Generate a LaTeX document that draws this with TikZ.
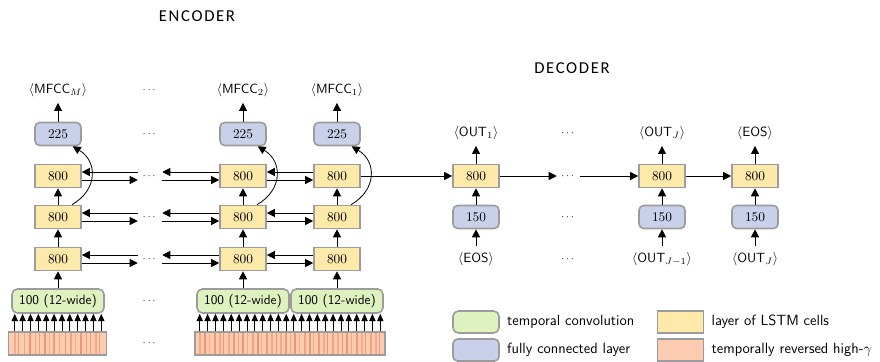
\documentclass[tikz,border=0pt]{standalone}
\usepackage{fontspec}
\usepackage{amsmath}
\newfontfamily\titlefont[LetterSpace=10]{Carlito}
\usetikzlibrary{arrows.meta,positioning,calc}
\definecolor{convGreen}{HTML}{DDF2BE}
\definecolor{fcBlue}{HTML}{C9D0EA}
\definecolor{lstmYellow}{HTML}{FDE9A9}
\definecolor{gammaSalmon}{HTML}{FCCBB0}
\definecolor{gammaStripe}{HTML}{EC9674}
\definecolor{boxGray}{HTML}{9C9C9C}
\tikzset{
  lstm/.style={draw=boxGray, line width=1.2pt, fill=lstmYellow, minimum width=34.5pt, minimum height=17.25pt, inner sep=0pt},
  fc/.style={lstm, fill=fcBlue, rounded corners=3.5pt},
  conv/.style={lstm, fill=convGreen, rounded corners=4pt, minimum width=69pt, minimum height=18pt, font=\sffamily},
  gammakey/.style={draw=boxGray, line width=1.2pt, fill=gammaSalmon, inner sep=0pt, minimum height=17.25pt},
  gamma/.style={gammakey,
    path picture={\foreach \s/\w/\o in #1
      \fill[gammaStripe!\o!gammaSalmon] ([xshift=\s*0.75pt]path picture bounding box.south west) rectangle ([xshift=(\s+\w)*0.75pt]path picture bounding box.north west);}},
  seqlabel/.style={font=\sffamily, inner xsep=1pt, inner ysep=4.5pt},
  keytext/.style={font=\sffamily\fontsize{11.1}{13}\selectfont},
  gap/.style={minimum width=18pt, inner sep=0pt, font=\scriptsize},
  flow/.style={-{Triangle[length=6pt,width=6pt]}, line width=0.6pt},
  tap/.style={-{Triangle[length=5.5pt,width=4.8pt]}, line width=0.5pt},
  title/.style={font=\titlefont\fontsize{12.5}{15}\selectfont}
}
\def\stripesM{5/2/60,9/1.5/90,15/1/70,20/2/100,26/1.5/60,30/1/80,35/2/100,40/1/60,44/2/90,50/1.5/70,56/1/100,61/2/80,66/1/60,71/2/100,77/1.5/70,81/1/90,86/2/60,90/1/80}
\def\stripesB{4/1.5/70,9/2/100,14/1/60,19/1.5/90,24/2/70,28/1/100,33/2/60,38/1.5/90,43/1/70,47/2/100,52/1/60,57/1.5/80,62/2/100,66/1/60,71/1.5/90,76/2/70,81/1/100,85/2/60,90/1.5/90,95/1/70,99/2/100,104/1/60,109/1.5/80,114/2/100,118/1/70,123/1.5/90,128/2/60,132/1/100,137/2/80,142/1.5/60,147/1/90,151/2/100,156/1/70,161/1.5/90,166/2/60,170/1/100,175/2/80,180/1.5/60,184/1/90}
\begin{document}
\begin{tikzpicture}[x=0.75pt, y=-0.75pt]
  \useasboundingbox (0,0) rectangle (880,361);

  % titles
  \node[title] (encTitle) at (197,16) {ENCODER};
  \node[title] (decTitle) at (572,68) {DECODER};

  % encoder columns
  \foreach \c/\x in {M/58, 2/243, 1/337} {
    \node[seqlabel] (enc\c-lab) at (\x,90) {$\langle\textsf{MFCC}_\c\rangle$};
    \node[fc] (enc\c-fc) at (\x,134) {225};
    \node[lstm] (enc\c-top) at (\x,176) {800};
    \node[lstm] (enc\c-mid) at (\x,217) {800};
    \node[lstm] (enc\c-bot) at (\x,259) {800};
    \node[conv] (enc\c-conv) at (\x,301) {100 (12-wide)};
    \draw[flow] (enc\c-conv) -- (enc\c-bot);
    \draw[flow] (enc\c-bot) -- (enc\c-mid);
    \draw[flow] (enc\c-mid) -- (enc\c-top);
    \draw[flow] (enc\c-fc) -- (enc\c-lab);
    \draw[flow] ([xshift=10.5pt]enc\c-mid.north) .. controls +(26,-15) and +(25,15) .. ([xshift=11pt]enc\c-fc.south);
  }

  % input spectrogram
  \node[gamma=\stripesM, minimum width=73.5pt] (gamM) at (57.5,343.5) {};
  \node[gamma=\stripesB, minimum width=142.5pt] (gamB) at (290,343.5) {};
  \foreach \c/\g in {M/gamM, 2/gamB, 1/gamB}
    \foreach \k in {0,...,11} {
      \path ([xshift={(\k-5.5)*5.9pt}]enc\c-conv.south) coordinate (tip);
      \draw[tap] (tip |- \g.north) -- (tip);
    }

  % encoder dots
  \foreach \r/\y in {lab/90, fc/134, top/176, mid/217, bot/259, conv/301, gam/343}
    \node[gap] (eDot-\r) at (150,\y) {$\cdots$};

  % bidirectional links
  \foreach \r in {top, mid, bot} {
    \draw[flow] ([yshift=3pt]eDot-\r.west) -- ([yshift=3pt]encM-\r.east);
    \draw[flow] ([yshift=-3pt]encM-\r.east) -- ([yshift=-3pt]eDot-\r.west);
    \draw[flow] ([yshift=3pt]enc2-\r.west) -- ([yshift=3pt]eDot-\r.east);
    \draw[flow] ([yshift=-3pt]eDot-\r.east) -- ([yshift=-3pt]enc2-\r.west);
    \draw[flow] ([yshift=3pt]enc1-\r.west) -- ([yshift=3pt]enc2-\r.east);
    \draw[flow] ([yshift=-3pt]enc2-\r.east) -- ([yshift=-3pt]enc1-\r.west);
  }

  % decoder
  \node[seqlabel] (dec1-out) at (476,133) {$\langle\textsf{OUT}_1\rangle$};
  \node[seqlabel] (decJ-out) at (662,133) {$\langle\textsf{OUT}_J\rangle$};
  \node[seqlabel] (decE-out) at (755,133) {$\langle\textsf{EOS}\rangle$};
  \node[seqlabel] (dec1-in) at (476,259) {$\langle\textsf{EOS}\rangle$};
  \node[seqlabel] (decJ-in) at (662,259) {$\langle\textsf{OUT}_{J-1}\rangle$};
  \node[seqlabel] (decE-in) at (755,259) {$\langle\textsf{OUT}_J\rangle$};
  \foreach \c/\x in {1/476, J/662, E/755} {
    \node[lstm] (dec\c-lstm) at (\x,176) {800};
    \node[fc] (dec\c-fc) at (\x,217) {150};
    \draw[flow] (dec\c-in) -- (dec\c-fc);
    \draw[flow] (dec\c-fc) -- (dec\c-lstm);
    \draw[flow] (dec\c-lstm) -- (dec\c-out);
  }
  \foreach \r/\y in {out/133, lstm/176, fc/217, in/259}
    \node[gap, minimum width=17.25pt] (dDot-\r) at (568.5,\y) {$\cdots$};
  \draw[flow] (enc1-top) -- (dec1-lstm);
  \draw[flow] (dec1-lstm) -- (dDot-lstm.west);
  \draw[flow] (dDot-lstm.east) -- (decJ-lstm);
  \draw[flow] (decJ-lstm) -- (decE-lstm);

  % legend
  \node[conv, minimum width=34.5pt, minimum height=16.5pt] (keyConv) at (476,322) {};
  \node[fc, minimum height=16.5pt] (keyFc) at (476,350) {};
  \node[lstm, minimum height=16.5pt] (keyLstm) at (680.5,322) {};
  \node[gammakey, minimum width=34.5pt, minimum height=16.5pt] (keyGam) at (680.5,350) {};
  \node[keytext, right=2pt of keyConv] (keyConvText) {temporal convolution};
  \node[keytext, right=2pt of keyFc] (keyFcText) {fully connected layer};
  \node[keytext, right=2pt of keyLstm] (keyLstmText) {layer of LSTM cells};
  \node[keytext, right=2pt of keyGam] (keyGamText) {temporally reversed high-$\gamma$};
\end{tikzpicture}
\end{document}
